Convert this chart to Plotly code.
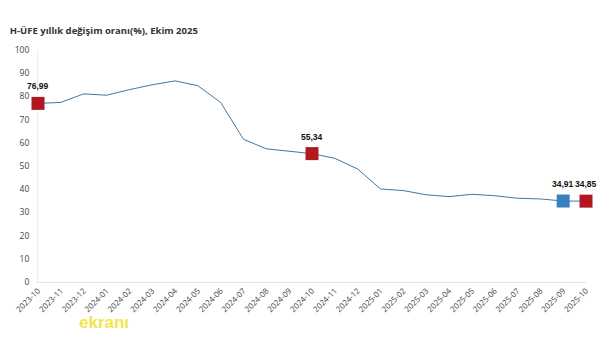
import plotly.graph_objects as go

months = ["2023-10", "2023-11", "2023-12", "2024-01", "2024-02", "2024-03", "2024-04",
          "2024-05", "2024-06", "2024-07", "2024-08", "2024-09", "2024-10", "2024-11",
          "2024-12", "2025-01", "2025-02", "2025-03", "2025-04", "2025-05", "2025-06",
          "2025-07", "2025-08", "2025-09", "2025-10"]
values = [76.99, 77.4, 81.1, 80.5, 82.9, 85.0, 86.7,
          84.6, 77.4, 61.5, 57.4, 56.5, 55.34, 53.3,
          48.7, 40.1, 39.4, 37.6, 36.8, 37.8, 37.2,
          36.1, 35.8, 34.91, 34.85]

hl_months = ["2023-10", "2024-10", "2025-09", "2025-10"]
hl_values = [76.99, 55.34, 34.91, 34.85]
hl_labels = ["76,99", "55,34", "34,91", "34,85"]
hl_colors = ["#b0171f", "#b0171f", "#3a80c1", "#b0171f"]

fig = go.Figure()
fig.add_trace(go.Scatter(x=months, y=values, mode="lines",
                         line=dict(color="#3f78a6", width=1), hoverinfo="skip",
                         cliponaxis=False, showlegend=False))
fig.add_trace(go.Scatter(x=hl_months, y=hl_values, mode="markers",
                         marker=dict(symbol="square", size=13, color=hl_colors,
                                     line=dict(width=0)),
                         cliponaxis=False, showlegend=False))
for m, v, t in zip(hl_months, hl_values, hl_labels):
    fig.add_annotation(x=m, y=v, text="<b>" + t + "</b>", showarrow=False,
                       yshift=17, font=dict(family="Liberation Sans, Arial", size=8.5, color="#111"))

fig.add_annotation(xref="paper", yref="paper", x=0.12, y=-0.174, xanchor="center", yanchor="middle",
                   text="<b>ekranı</b>", showarrow=False,
                   font=dict(family="Liberation Sans, Arial", size=17, color="#f2e64a"))

fig.update_layout(
    width=610, height=337,
    margin=dict(l=38, r=24, t=50, b=55),
    paper_bgcolor="white", plot_bgcolor="white",
    title=dict(text="<b>H-ÜFE yıllık değişim oranı(%), Ekim 2025</b>",
               x=0.016, xanchor="left", y=0.91, yanchor="middle",
               font=dict(family="Open Sans, Arial", size=9.5, color="#333")),
    xaxis=dict(type="category", range=[0, 24], tickangle=-45, showgrid=False,
               showline=True, linecolor="#e3e3e3", linewidth=1, ticks="",
               layer="below traces",
               tickfont=dict(family="Open Sans, Arial", size=8, color="#444")),
    yaxis=dict(range=[0, 100], dtick=10, showgrid=False, zeroline=False,
               showline=True, linecolor="#ececec", linewidth=1, ticks="",
               layer="below traces", ticklabelstandoff=6,
               tickfont=dict(family="Open Sans, Arial", size=8.5, color="#444")),
)

fig.write_html("out.html")
